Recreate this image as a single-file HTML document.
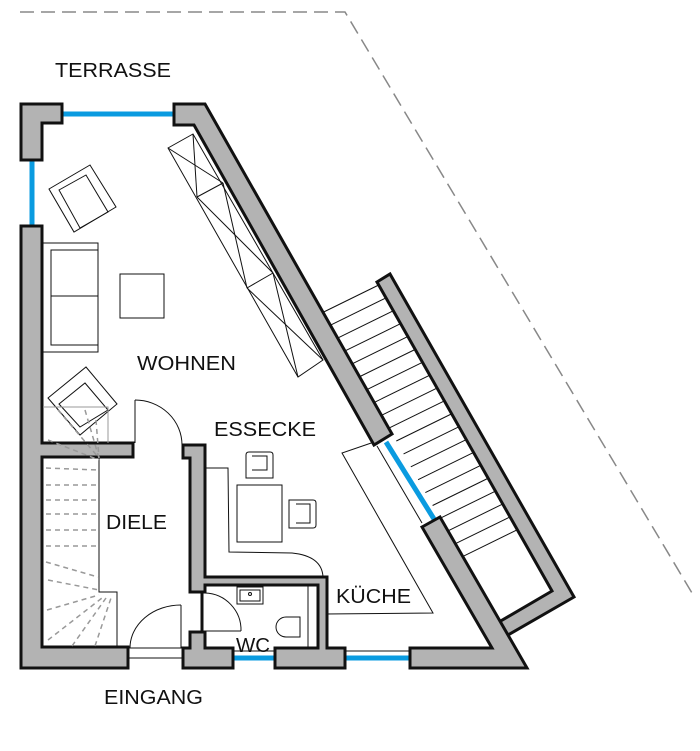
<!DOCTYPE html>
<html><head><meta charset="utf-8"><style>
html,body{margin:0;padding:0;background:#fff;}
svg{display:block;}
text{font-family:"Liberation Sans",Arial,sans-serif;font-size:20px;fill:#111;}
</style></head><body>
<svg width="700" height="751" viewBox="0 0 700 751" xmlns="http://www.w3.org/2000/svg">
<polyline points="20,12 345,12 695,598" fill="none" stroke="#888" stroke-width="1.5" stroke-dasharray="14,7"/>

<defs><line id="t" x1="323.7" y1="312" x2="378.7" y2="285" stroke="#111" stroke-width="1"/></defs>
<g>
<use href="#t"/>
<use href="#t" transform="translate(7.26,12.9)"/>
<use href="#t" transform="translate(14.52,25.8)"/>
<use href="#t" transform="translate(21.78,38.7)"/>
<use href="#t" transform="translate(29.04,51.6)"/>
<use href="#t" transform="translate(36.3,64.5)"/>
<use href="#t" transform="translate(43.56,77.4)"/>
<use href="#t" transform="translate(50.82,90.3)"/>
<use href="#t" transform="translate(58.08,103.2)"/>
<use href="#t" transform="translate(65.34,116.1)"/>
<use href="#t" transform="translate(72.6,129)"/>
<use href="#t" transform="translate(79.86,141.9)"/>
<use href="#t" transform="translate(87.12,154.8)"/>
<use href="#t" transform="translate(94.38,167.7)"/>
<use href="#t" transform="translate(101.64,180.6)"/>
<use href="#t" transform="translate(108.9,193.5)"/>
<use href="#t" transform="translate(116.16,206.4)"/>
<use href="#t" transform="translate(123.42,219.3)"/>
<use href="#t" transform="translate(130.68,232.2)"/>
<use href="#t" transform="translate(137.94,245.1)"/>
</g>

<polyline points="380,440 342,453 433,613 325,614" fill="none" stroke="#111" stroke-width="1"/>
<path d="M206,468 L228,468 L229,552 L292,553 Q322,556 323,577" fill="none" stroke="#111" stroke-width="1"/>

<g stroke="#0a9be0" stroke-width="5" fill="none">
<line x1="62" y1="114" x2="176" y2="114"/>
<line x1="32" y1="160" x2="32" y2="226"/>
<line x1="386" y1="442" x2="434" y2="519"/>
<line x1="232" y1="658" x2="276" y2="658"/>
<line x1="344" y1="658" x2="411" y2="658"/>
</g>
<g stroke="#111" stroke-width="1" fill="none">
<line x1="377" y1="446" x2="422" y2="523"/>
<line x1="232" y1="651" x2="276" y2="651"/>
<line x1="344" y1="651" x2="411" y2="651"/>
<line x1="128" y1="648" x2="184" y2="648"/>
<line x1="128" y1="658" x2="184" y2="658"/>
</g>

<g fill="#b3b3b3" stroke="#111" stroke-width="3" stroke-linejoin="miter">
<polygon points="21,104 62,104 62,123 42,123 42,160 21,160"/>
<polygon points="21,226 42,226 42,443 133,443 133,457 42,457 42,647 128,647 128,668 21,668"/>
<polygon points="174,104 205,104 392,434 374,445 194,125 174,125"/>
<polygon points="377,282 390,274 574,597 508,635 499,622 552,591"/>
<polygon points="422,527 440,517 527,668 410,668 410,648 492,648"/>
<polygon points="183,445 205,445 205,577 327,577 327,648 345,648 345,668 275,668 275,648 318,648 318,585 205,585 205,592 190,592 190,458 183,458"/>
<polygon points="190,632 205,632 205,648 233,648 233,668 183,668 183,648 190,648"/>
</g>
<line x1="202" y1="592" x2="202" y2="633" stroke="#111" stroke-width="3"/>

<g fill="none" stroke="#111" stroke-width="1">
<rect x="237" y="587" width="26" height="17"/>
<rect x="240" y="590" width="20" height="11"/>
<circle cx="250" cy="594" r="1.5"/>
<line x1="308" y1="586" x2="308" y2="648"/>
<path d="M300,617 L286,617 A10,10 0 0 0 286,637 L300,637 Z"/>
<path d="M205,593 A37,37 0 0 1 241,631"/>
<line x1="205" y1="631" x2="241" y2="631"/>
</g>

<g fill="none" stroke="#111" stroke-width="1">
<line x1="181" y1="605" x2="181" y2="648"/>
<path d="M130,648 A51,43 0 0 1 181,605"/>
<line x1="135" y1="400" x2="135" y2="443"/>
<path d="M135,400 A47,45 0 0 1 182,445"/>
</g>

<g fill="none" stroke="#111" stroke-width="1">
<rect x="43" y="243" width="55" height="109"/>
<rect x="51" y="250" width="47" height="95"/>
<line x1="51" y1="296" x2="98" y2="296"/>
<rect x="120" y="274" width="44" height="44"/>
<polygon points="49,189 90,165 116,207 74,232"/>
<polygon points="59,190 86,175 108,212 80,228"/>
<polygon points="48,398 86,367 117,404 80,435"/>
<polygon points="59,404 85,383 108,410 80,427"/>
<polygon points="168,148 193,134 323,360 298,377"/>
<line x1="193" y1="134" x2="197" y2="197"/>
<line x1="197" y1="197" x2="223" y2="183"/>
<line x1="247" y1="288" x2="273" y2="273"/>
<line x1="168" y1="148" x2="223" y2="183"/>
<line x1="197" y1="197" x2="273" y2="273"/>
<line x1="223" y1="183" x2="247" y2="288"/>
<line x1="247" y1="288" x2="323" y2="360"/>
<line x1="273" y1="273" x2="298" y2="377"/>
<rect x="237" y="485" width="45" height="57"/>
<path d="M249,452 L270,452 Q273,452 273,455 L273,478 L246,478 L246,455 Q246,452 249,452 Z"/>
<path d="M252,456 L267,456 L267,470 L252,470"/>
<path d="M289,500 L313,500 Q316,500 316,503 L316,525 Q316,528 313,528 L289,528 Z"/>
<path d="M296,504 L310,504 L310,523 L296,523"/>
</g>

<g fill="none" stroke="#111" stroke-width="1">
<polyline points="99,458 99,592 117,592 117,647"/>
</g>
<g fill="none" stroke="#999" stroke-width="1.5" stroke-dasharray="5,4">
<polyline points="43,407 108,407 108,443" stroke-dasharray="none" stroke-width="1"/>
<line x1="46" y1="485" x2="98" y2="485"/>
<line x1="46" y1="500" x2="98" y2="500"/>
<line x1="46" y1="514" x2="98" y2="514"/>
<line x1="46" y1="530" x2="98" y2="530"/>
<line x1="46" y1="546" x2="98" y2="546"/>
<line x1="46" y1="562" x2="98" y2="577"/>
<line x1="46" y1="468" x2="98" y2="470"/>
<line x1="48" y1="580" x2="99" y2="590"/>
<line x1="47" y1="610" x2="99" y2="595"/>
<line x1="48" y1="640" x2="102" y2="598"/>
<line x1="72" y1="646" x2="106" y2="598"/>
<line x1="95" y1="646" x2="111" y2="598"/>
<line x1="48" y1="440" x2="99" y2="460"/>
<line x1="58" y1="410" x2="99" y2="458"/>
<line x1="85" y1="410" x2="99" y2="458"/>
<line x1="96" y1="420" x2="99" y2="458"/>
</g>

<text x="55" y="77" textLength="116" lengthAdjust="spacingAndGlyphs">TERRASSE</text>
<text x="137" y="370" textLength="99" lengthAdjust="spacingAndGlyphs">WOHNEN</text>
<text x="214" y="436" textLength="102" lengthAdjust="spacingAndGlyphs">ESSECKE</text>
<text x="106" y="529" textLength="61" lengthAdjust="spacingAndGlyphs">DIELE</text>
<text x="336" y="603" textLength="75" lengthAdjust="spacingAndGlyphs">KÜCHE</text>
<text x="236" y="652" textLength="34" lengthAdjust="spacingAndGlyphs">WC</text>
<text x="104" y="704" textLength="99" lengthAdjust="spacingAndGlyphs">EINGANG</text>
</svg>
</body></html>
